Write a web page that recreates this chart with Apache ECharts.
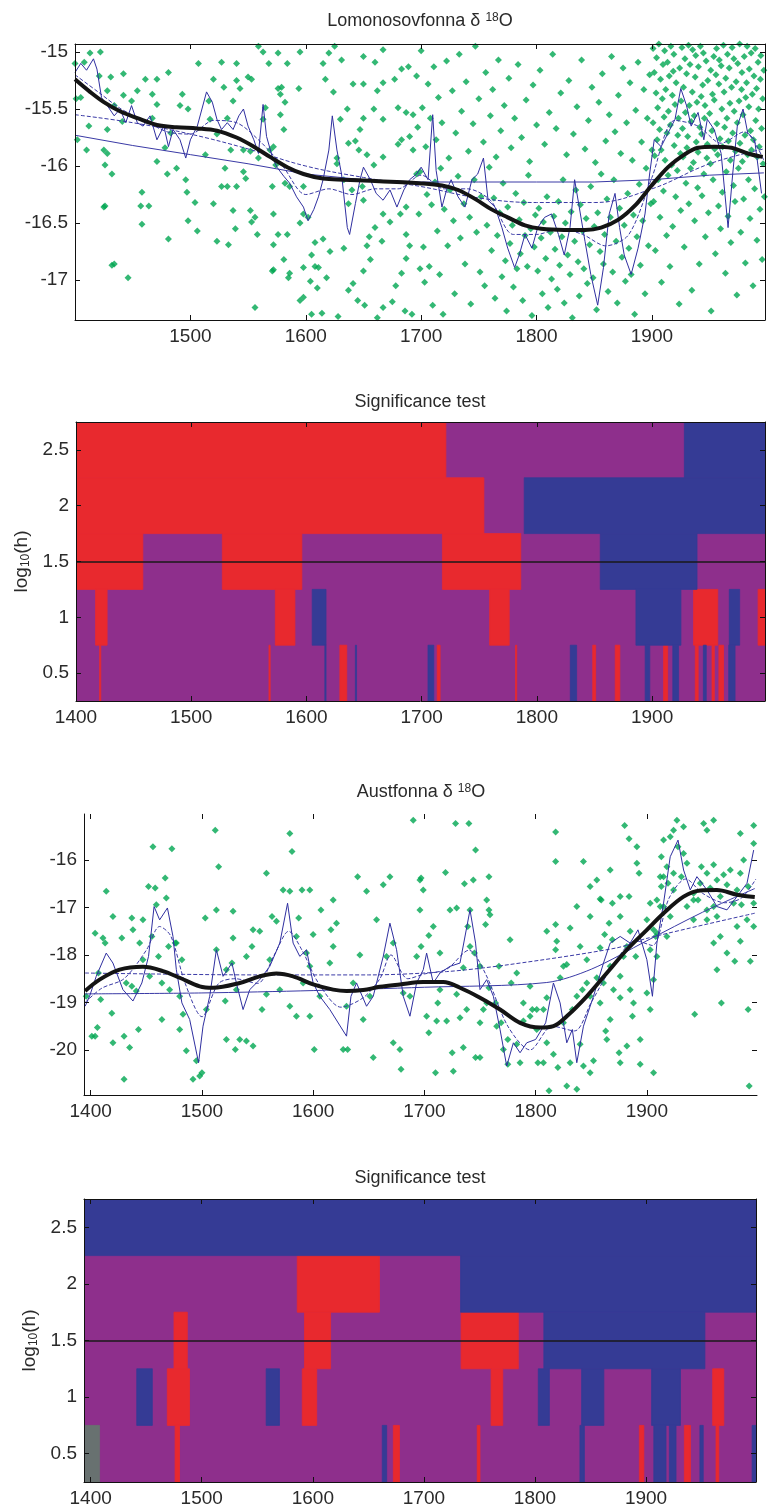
<!DOCTYPE html>
<html>
<head>
<meta charset="utf-8">
<title>Lomonosovfonna / Austfonna d18O</title>
<script src="https://cdn.jsdelivr.net/npm/echarts@6/dist/echarts.min.js"></script>
<style>
html, body {margin: 0; padding: 0; background: #fff;}
#chart {width: 771px; height: 1509px;}
</style>
</head>
<body>
<div id="chart"></div>
<script>
"use strict";

// ---------- Lomonosovfonna d18O (year, permil) ----------
var lomoPoints1400 = [[1400,-15.10],[1408,-15.09],[1413,-15.01],[1422,-15.00],[1401,-15.41],[1405,-15.40],[1402,-15.77],[1412,-15.65],[1410,-15.86],[1425,-15.86],[1428,-15.89],[1426,-15.99],[1432,-16.07],[1425,-16.36],[1432,-16.87],[1446,-16.98],[1421,-15.21],[1431,-15.22],[1428,-15.34],[1442,-15.19],[1454,-15.34],[1449,-15.43],[1442,-15.38],[1434,-15.47],[1441,-15.61],[1428,-15.68],[1467,-15.37],[1471,-15.46],[1461,-15.24],[1471,-15.24],[1481,-15.18],[1467,-15.58],[1483,-15.71],[1478,-15.84],[1471,-15.96],[1488,-16.02],[1480,-16.07],[1458,-16.23],[1464,-16.35],[1457,-16.35],[1426,-16.35],[1458,-16.51],[1481,-16.64],[1434,-16.86],[1493,-15.37],[1491,-15.47],[1498,-15.50],[1507,-15.10],[1516,-15.43],[1520,-15.24],[1527,-15.09],[1529,-15.31],[1537,-15.43],[1540,-15.10],[1540,-15.25],[1550,-15.22],[1553,-15.24],[1543,-15.32],[1523,-15.72],[1532,-15.58],[1517,-15.59],[1513,-15.90],[1530,-16.02],[1535,-15.86],[1496,-16.12],[1497,-16.23],[1504,-16.32],[1498,-16.48],[1506,-16.57],[1520,-16.33],[1527,-16.18],[1532,-16.18],[1540,-16.18],[1537,-16.39],[1539,-16.55],[1523,-16.66],[1533,-16.69],[1552,-16.39],[1556,-16.45],[1553,-16.49],[1558,-16.60],[1559,-15.93],[1546,-16.05],[1548,-16.11],[1556,-17.24],[1563,-15.00],[1565,-15.49],[1563,-15.59],[1576,-15.01],[1568,-15.10],[1584,-15.10],[1579,-15.31],[1578,-15.55],[1581,-15.68],[1572,-15.83],[1574,-15.99],[1582,-16.15],[1571,-16.18],[1586,-16.18],[1594,-15.32],[1595,-15.00],[1598,-16.18],[1598,-16.42],[1602,-16.45],[1595,-16.50],[1572,-16.42],[1572,-16.69],[1576,-16.60],[1584,-16.60],[1581,-16.82],[1572,-16.91],[1571,-16.92],[1586,-16.94],[1585,-16.98],[1598,-16.89],[1608,-16.88],[1611,-16.89],[1605,-16.78],[1608,-16.67],[1615,-16.64],[1598,-17.15],[1595,-17.18],[1604,-17.01],[1610,-17.07],[1614,-17.29],[1621,-16.75],[1637,-17.09],[1641,-17.03],[1650,-16.92],[1653,-16.70],[1656,-16.82],[1666,-16.66],[1651,-17.22],[1667,-17.24],[1675,-17.19],[1686,-17.27],[1683,-16.94],[1687,-16.81],[1690,-16.70],[1687,-16.60],[1660,-16.54],[1667,-16.42],[1673,-16.49],[1682,-16.42],[1687,-16.36],[1637,-16.33],[1650,-16.30],[1649,-16.18],[1640,-16.21],[1633,-16.12],[1627,-15.93],[1627,-15.98],[1637,-15.80],[1646,-15.86],[1643,-15.78],[1653,-15.90],[1659,-15.99],[1667,-15.92],[1680,-15.81],[1690,-15.74],[1683,-15.77],[1693,-15.86],[1696,-16.07],[1630,-15.59],[1636,-15.50],[1650,-15.58],[1647,-15.68],[1659,-15.50],[1667,-15.59],[1680,-15.49],[1687,-15.53],[1693,-15.55],[1641,-15.28],[1650,-15.28],[1662,-15.34],[1667,-15.27],[1677,-15.24],[1624,-15.35],[1617,-15.24],[1615,-15.10],[1620,-15.01],[1625,-14.95],[1631,-15.07],[1650,-15.04],[1660,-15.09],[1667,-14.98],[1683,-15.15],[1689,-15.13],[1578,-15.37],[1582,-15.44],[1559,-14.95],[1576,-15.32],[1552,-15.87],[1546,-15.86],[1569,-15.86],[1605,-17.30],[1628,-17.32],[1645,-17.18],[1662,-17.33],[1678,-17.05],[1692,-17.30],[1618,-16.98],[1633,-16.72],[1655,-16.62],[1699,-16.90]];

var lomoPoints1700 = [[1696,-15.21],[1697,-15.66],[1698,-16.42],[1699,-16.05],[1700,-14.99],[1701,-15.49],[1702,-16.71],[1703,-17.02],[1704,-15.83],[1705,-16.25],[1706,-15.28],[1707,-16.88],[1708,-15.58],[1709,-16.34],[1710,-17.22],[1711,-15.13],[1712,-16.14],[1713,-15.77],[1714,-16.57],[1715,-15.40],[1716,-16.95],[1717,-16.02],[1718,-15.62],[1719,-17.30],[1720,-16.38],[1722,-15.08],[1723,-16.70],[1724,-15.93],[1725,-16.21],[1727,-15.34],[1728,-16.48],[1729,-17.12],[1730,-15.71],[1732,-16.09],[1733,-15.02],[1734,-16.63],[1735,-15.52],[1737,-16.33],[1738,-16.86],[1739,-15.26],[1741,-15.87],[1742,-16.45],[1743,-17.21],[1745,-15.63],[1746,-16.12],[1747,-14.95],[1748,-16.58],[1750,-15.41],[1751,-16.93],[1752,-16.27],[1754,-15.79],[1755,-17.05],[1756,-15.18],[1757,-16.52],[1759,-16.01],[1760,-15.56],[1761,-16.74],[1762,-15.33],[1763,-16.28],[1764,-17.16],[1765,-15.92],[1766,-16.61],[1767,-15.07],[1768,-16.41],[1769,-15.69],[1770,-16.97],[1771,-16.15],[1772,-15.47],[1773,-16.83],[1774,-17.27],[1775,-16.36],[1776,-15.23],[1777,-16.68],[1778,-15.84],[1779,-16.52],[1780,-17.06],[1781,-15.58],[1782,-16.24],[1783,-16.90],[1784,-15.11],[1785,-16.47],[1786,-16.77],[1787,-15.75],[1788,-17.18],[1789,-16.32],[1790,-16.61],[1791,-15.42],[1792,-16.88],[1793,-16.08],[1794,-15.96],[1795,-16.55],[1796,-17.31],[1797,-15.29],[1798,-16.71],[1799,-16.43],[1800,-15.64],[1801,-16.92],[1802,-16.37],[1803,-15.16],[1804,-16.63],[1805,-17.12],[1806,-16.49],[1807,-15.81],[1808,-16.81],[1809,-16.27],[1810,-17.24],[1811,-15.53],[1812,-16.58],[1813,-16.99],[1814,-15.02],[1815,-16.44],[1816,-16.73],[1817,-15.67],[1818,-17.08],[1819,-16.31],[1820,-16.87],[1821,-15.36],[1822,-16.62],[1823,-16.12],[1824,-17.20],[1825,-16.50],[1826,-15.90],[1827,-16.78],[1828,-15.25],[1829,-16.95],[1830,-16.40],[1831,-17.33],[1832,-15.72],[1833,-16.66],[1834,-16.21],[1835,-15.48],[1836,-16.84],[1837,-17.14],[1838,-16.34],[1839,-15.07],[1840,-16.57],[1841,-16.90],[1842,-15.85],[1843,-16.46],[1844,-17.03],[1845,-15.60],[1846,-16.69],[1847,-16.18],[1848,-15.31],[1849,-16.98],[1850,-16.53],[1851,-15.97],[1852,-17.26],[1853,-16.41],[1854,-15.44],[1855,-16.75],[1856,-16.07],[1857,-15.19],[1858,-16.86],[1859,-16.60],[1860,-15.78],[1861,-16.29],[1862,-17.10],[1863,-15.55],[1864,-16.45],[1865,-15.04],[1866,-16.93],[1867,-16.12],[1868,-15.70],[1869,-16.66],[1870,-17.20],[1871,-15.38],[1872,-16.37],[1873,-15.89],[1874,-16.80],[1875,-15.14],[1876,-16.52],[1877,-17.01],[1878,-15.62],[1879,-16.24],[1880,-16.72],[1881,-15.27],[1882,-16.95],[1883,-15.95],[1884,-16.43],[1885,-17.30],[1886,-15.51],[1887,-16.62],[1888,-15.09],[1889,-16.16],[1890,-16.87],[1891,-15.79],[1892,-16.48],[1893,-15.33],[1894,-17.12],[1895,-16.02],[1896,-15.58],[1897,-16.70],[1898,-15.20],[1899,-16.33],[1900,-15.86]];

var lomoPoints1900 = [[1901,-15.62],[1901,-14.97],[1901.5,-16.31],[1902,-15.18],[1902.4,-15.91],[1903,-16.74],[1903.6,-15.36],[1904,-15.05],[1904.5,-15.77],[1905,-15.49],[1905.3,-16.12],[1906,-14.93],[1906.7,-15.68],[1907,-16.45],[1907.5,-15.24],[1908,-15.86],[1908.3,-17.02],[1909,-15.41],[1909.6,-15.11],[1910,-16.22],[1910.5,-15.57],[1911,-14.99],[1911.4,-15.95],[1912,-15.33],[1912.7,-16.61],[1913,-15.71],[1913.5,-15.09],[1914,-16.08],[1914.3,-15.52],[1915,-15.21],[1915.6,-16.88],[1916,-15.64],[1916.4,-14.95],[1917,-15.99],[1917.7,-15.38],[1918,-16.53],[1918.5,-15.17],[1919,-15.02],[1919.3,-15.82],[1920,-15.46],[1920.6,-16.27],[1921,-15.27],[1921.5,-14.91],[1922,-16.04],[1922.4,-15.73],[1923,-15.58],[1923.6,-17.21],[1924,-15.14],[1924.7,-15.89],[1925,-16.39],[1925.3,-15.43],[1926,-14.96],[1926.5,-15.67],[1927,-15.92],[1927.4,-15.31],[1928,-16.71],[1928.6,-15.06],[1929,-15.53],[1929.5,-16.15],[1930,-15.19],[1930.3,-15.84],[1931,-15.74],[1931.7,-14.94],[1932,-16.33],[1932.4,-15.47],[1933,-15.11],[1933.5,-16.02],[1934,-15.61],[1934.6,-17.09],[1935,-15.35],[1935.3,-14.98],[1936,-15.97],[1936.7,-15.56],[1937,-16.48],[1937.5,-15.22],[1938,-15.03],[1938.4,-15.79],[1939,-15.44],[1939.6,-16.19],[1940,-15.88],[1940.3,-15.13],[1941,-16.86],[1941.5,-15.66],[1942,-14.95],[1942.7,-15.39],[1943,-15.72],[1943.4,-16.26],[1944,-15.29],[1944.6,-15.01],[1945,-16.07],[1945.5,-15.58],[1946,-15.47],[1946.3,-16.62],[1947,-15.08],[1947.6,-15.93],[1948,-15.81],[1948.4,-15.25],[1949,-16.41],[1949.5,-14.92],[1950,-15.54],[1950.7,-15.98],[1951,-15.16],[1951.3,-17.27],[1952,-15.69],[1952.5,-15.37],[1953,-16.12],[1953.6,-15.04],[1954,-15.42],[1954.4,-15.85],[1955,-16.77],[1955.5,-15.20],[1956,-14.97],[1956.3,-15.63],[1957,-15.90],[1957.7,-16.35],[1958,-15.28],[1958.4,-15.07],[1959,-15.76],[1959.5,-16.55],[1960,-15.12],[1960.6,-15.50],[1961,-16.23],[1961.3,-15.83],[1962,-14.94],[1962.5,-15.35],[1963,-15.66],[1963.7,-16.94],[1964,-15.23],[1964.4,-16.05],[1965,-15.58],[1965.5,-15.02],[1966,-16.44],[1966.3,-15.78],[1967,-15.14],[1967.6,-15.45],[1968,-15.95],[1968.4,-16.67],[1969,-15.31],[1969.5,-14.96],[1970,-15.71],[1970.7,-16.17],[1971,-15.06],[1971.3,-15.52],[1972,-16.31],[1972.5,-15.87],[1973,-15.26],[1973.6,-17.13],[1974,-15.62],[1974.4,-15.10],[1975,-16.02],[1975.5,-15.43],[1976,-14.93],[1976.3,-15.80],[1977,-16.58],[1977.7,-15.33],[1978,-15.18],[1978.4,-15.96],[1979,-15.55],[1979.5,-16.29],[1980,-15.04],[1980.6,-15.73],[1981,-16.85],[1981.3,-15.40],[1982,-15.27],[1982.5,-14.95],[1983,-15.90],[1983.7,-16.12],[1984,-15.48],[1984.4,-15.15],[1985,-16.46],[1985.5,-15.69],[1986,-15.01],[1986.3,-15.86],[1987,-15.37],[1987.6,-17.05],[1988,-15.77],[1988.4,-15.21],[1989,-16.20],[1989.5,-14.97],[1990,-15.60],[1990.7,-15.32],[1991,-16.65],[1991.3,-15.92],[1992,-15.09],[1992.5,-15.50],[1993,-15.83],[1993.6,-16.38],[1994,-15.24],[1994.4,-15.03],[1995,-15.67],[1995.5,-16.82],[1996,-15.41],[1996.3,-15.98],[1997,-15.16],[1997.5,-16.27]];

// smooths of the Lomonosovfonna record
var lomoSmooth = [[1400,-15.24],[1413,-15.35],[1425,-15.44],[1439,-15.52],[1454,-15.58],[1471,-15.64],[1488,-15.66],[1506,-15.67],[1523,-15.69],[1540,-15.75],[1555,-15.83],[1569,-15.92],[1584,-16.01],[1598,-16.07],[1615,-16.11],[1633,-16.12],[1656,-16.13],[1679,-16.14],[1698,-16.15],[1718,-16.17],[1732,-16.21],[1747,-16.29],[1761,-16.38],[1775,-16.45],[1790,-16.52],[1804,-16.55],[1824,-16.56],[1842,-16.56],[1856,-16.54],[1871,-16.47],[1885,-16.35],[1899,-16.18],[1914,-16.01],[1928,-15.90],[1940,-15.84],[1954,-15.83],[1969,-15.84],[1983,-15.89],[1996,-15.92]];
var lomoFine = [[1400,-15.18],[1405,-15.10],[1410,-15.16],[1416,-15.06],[1419,-15.15],[1423,-15.40],[1428,-15.47],[1434,-15.56],[1439,-15.50],[1444,-15.62],[1449,-15.47],[1454,-15.62],[1459,-15.65],[1465,-15.56],[1471,-15.77],[1477,-15.65],[1481,-15.83],[1485,-15.68],[1491,-15.77],[1496,-15.93],[1500,-15.77],[1506,-15.65],[1510,-15.50],[1514,-15.35],[1519,-15.44],[1523,-15.59],[1527,-15.68],[1532,-15.62],[1537,-15.68],[1542,-15.56],[1546,-15.50],[1550,-15.65],[1555,-15.77],[1559,-15.89],[1563,-15.46],[1566,-15.74],[1571,-15.92],[1575,-16.01],[1581,-16.09],[1586,-16.15],[1592,-16.27],[1598,-16.36],[1602,-16.48],[1607,-16.38],[1611,-16.27],[1615,-16.12],[1620,-15.86],[1623,-15.56],[1627,-15.86],[1631,-16.07],[1636,-16.54],[1638,-16.60],[1643,-16.33],[1647,-16.12],[1650,-16.01],[1656,-16.12],[1661,-16.24],[1667,-16.30],[1673,-16.21],[1679,-16.36],[1685,-16.21],[1690,-16.12],[1696,-16.07],[1700,-16.01],[1706,-16.12],[1710,-15.55],[1713,-16.04],[1718,-16.36],[1722,-16.21],[1726,-16.12],[1732,-16.27],[1738,-16.36],[1744,-16.12],[1749,-16.07],[1754,-15.93],[1758,-16.30],[1764,-16.36],[1770,-16.54],[1775,-16.72],[1781,-16.89],[1785,-16.78],[1790,-16.60],[1796,-16.72],[1801,-16.54],[1807,-16.45],[1813,-16.42],[1819,-16.60],[1824,-16.78],[1829,-16.54],[1833,-16.12],[1837,-16.36],[1842,-16.66],[1847,-16.95],[1853,-17.22],[1858,-16.89],[1863,-16.42],[1868,-16.24],[1872,-16.54],[1876,-16.78],[1882,-16.95],[1888,-16.72],[1894,-16.42],[1898,-16.07],[1902,-15.77],[1908,-15.83],[1914,-15.71],[1920,-15.59],[1925,-15.32],[1930,-15.47],[1934,-15.65],[1940,-15.53],[1945,-15.77],[1948,-15.59],[1954,-15.68],[1960,-15.89],[1966,-16.54],[1970,-16.07],[1974,-15.65],[1979,-15.50],[1983,-15.71],[1989,-15.77],[1995,-16.24]];
var lomoMedium = [[1400,-15.20],[1420,-15.35],[1440,-15.50],[1460,-15.60],[1480,-15.70],[1500,-15.72],[1520,-15.60],[1540,-15.62],[1560,-15.78],[1580,-16.00],[1600,-16.25],[1620,-16.20],[1640,-16.25],[1660,-16.20],[1680,-16.20],[1700,-16.08],[1720,-16.20],[1740,-16.20],[1760,-16.30],[1780,-16.60],[1800,-16.60],[1820,-16.55],[1840,-16.60],[1860,-16.70],[1880,-16.60],[1900,-16.10],[1920,-15.60],[1940,-15.65],[1960,-15.80],[1980,-15.70],[1997,-15.95]];
var lomoWide1 = [[1400,-15.73],[1450,-15.82],[1500,-15.90],[1550,-15.98],[1600,-16.07],[1650,-16.12],[1700,-16.14],[1750,-16.14],[1800,-16.14],[1850,-16.14],[1900,-16.12],[1950,-16.08],[1997,-16.06]];
var lomoWide2 = [[1400,-15.55],[1450,-15.62],[1500,-15.72],[1550,-15.85],[1600,-16.00],[1650,-16.10],[1700,-16.18],[1750,-16.28],[1800,-16.32],[1850,-16.32],[1900,-16.20],[1950,-15.98],[1997,-15.85]];

// ---------- Austfonna d18O ----------
var austPoints1400 = [[1414,-16.66],[1404,-17.54],[1420,-17.19],[1411,-17.64],[1413,-17.75],[1396,-18.87],[1407,-18.38],[1401,-19.71],[1406,-19.53],[1409,-18.94],[1419,-19.23],[1430,-19.71],[1435,-19.95],[1430,-20.62],[1428,-17.64],[1437,-17.22],[1441,-18.76],[1443,-19.57],[1447,-17.26],[1452,-16.56],[1458,-16.59],[1459,-16.94],[1461,-18.03],[1455,-17.61],[1467,-16.38],[1468,-16.80],[1470,-17.82],[1476,-17.75],[1473,-15.76],[1456,-15.72],[1444,-17.75],[1438,-17.47],[1432,-18.59],[1447,-18.10],[1453,-18.45],[1464,-18.59],[1471,-18.73],[1477,-17.75],[1482,-18.10],[1480,-18.87],[1483,-19.25],[1486,-20.02],[1495,-20.23],[1492,-20.62],[1498,-20.55],[1503,-17.22],[1504,-19.15],[1513,-17.89],[1512,-15.37],[1513,-17.05],[1515,-16.14],[1522,-18.31],[1527,-18.17],[1528,-17.08],[1531,-18.73],[1521,-18.97],[1522,-19.78],[1530,-19.99],[1534,-19.78],[1540,-19.81],[1546,-19.92],[1540,-18.03],[1545,-17.82],[1552,-17.50],[1558,-16.28],[1563,-17.19],[1561,-18.10],[1554,-19.15],[1558,-18.83],[1573,-16.63],[1579,-15.44],[1581,-15.82],[1579,-16.66],[1587,-17.22],[1590,-16.63],[1597,-16.63],[1585,-17.61],[1594,-17.96],[1600,-17.57],[1597,-18.24],[1591,-18.59],[1570,-18.73],[1579,-19.08],[1585,-19.29],[1597,-19.29],[1601,-19.99],[1606,-18.87],[1615,-18.17],[1618,-17.82],[1621,-17.33],[1627,-19.99],[1631,-19.99],[1630,-19.08],[1636,-18.59],[1642,-18.00],[1645,-19.36],[1651,-18.87],[1654,-20.16],[1640,-16.35],[1648,-16.66],[1657,-17.26],[1663,-16.52],[1666,-18.03],[1672,-17.75],[1672,-19.85],[1678,-19.99],[1679,-20.41],[1681,-18.80],[1687,-18.87],[1693,-18.03],[1697,-17.82],[1696,-16.42],[1690,-15.16],[1669,-16.35],[1618,-16.84],[1616,-17.47],[1607,-17.05],[1567,-17.29],[1546,-17.47],[1528,-17.64],[1404,-19.71],[1464,-19.36],[1480,-19.57],[1500,-20.48],[1437,-18.66],[1420,-19.85]];

var austPoints1700 = [[1728,-15.23],[1740,-15.23],[1746,-15.79],[1818,-15.41],[1818,-16.03],[1843,-16.03],[1719,-16.26],[1697,-16.38],[1736,-16.50],[1744,-16.42],[1758,-16.35],[1699,-16.63],[1696,-17.05],[1723,-17.05],[1729,-17.01],[1741,-17.05],[1758,-17.05],[1759,-17.15],[1756,-16.84],[1777,-17.68],[1767,-18.24],[1755,-17.36],[1708,-17.40],[1704,-17.59],[1739,-17.40],[1741,-17.82],[1745,-17.96],[1714,-17.96],[1750,-18.24],[1735,-18.27],[1714,-18.73],[1729,-18.83],[1711,-19.39],[1720,-19.39],[1732,-19.32],[1702,-19.29],[1712,-19.01],[1704,-19.64],[1735,-19.95],[1746,-20.16],[1710,-20.48],[1726,-20.45],[1753,-19.15],[1758,-18.69],[1764,-19.01],[1769,-19.43],[1775,-19.78],[1783,-19.88],[1771,-19.99],[1775,-20.30],[1786,-20.27],[1778,-18.59],[1783,-18.38],[1795,-18.66],[1797,-19.15],[1801,-19.15],[1807,-19.15],[1801,-19.57],[1810,-19.85],[1802,-20.27],[1807,-20.27],[1816,-20.09],[1812,-20.86],[1828,-20.76],[1837,-20.83],[1820,-20.37],[1831,-20.27],[1843,-20.34],[1840,-19.88],[1852,-20.23],[1849,-20.48],[1825,-19.43],[1833,-19.15],[1837,-18.87],[1846,-18.59],[1842,-18.73],[1849,-18.87],[1858,-19.01],[1861,-18.59],[1855,-18.48],[1822,-18.48],[1818,-17.89],[1819,-17.71],[1810,-17.50],[1818,-17.36],[1828,-18.20],[1840,-17.82],[1846,-18.10],[1849,-17.19],[1855,-16.42],[1859,-16.84],[1867,-16.21],[1869,-16.91],[1876,-16.77],[1876,-17.19],[1884,-16.77],[1866,-17.33],[1862,-17.57],[1869,-17.68],[1858,-17.85],[1885,-17.50],[1882,-17.82],[1879,-18.03],[1890,-18.03],[1867,-18.24],[1876,-18.45],[1870,-18.73],[1885,-18.73],[1876,-18.90],[1888,-19.01],[1887,-19.29],[1903,-19.15],[1900,-18.80],[1906,-18.52],[1894,-19.78],[1882,-19.92],[1876,-20.27],[1894,-20.30],[1906,-20.48],[1867,-19.36],[1864,-19.78],[1875,-20.06],[1863,-19.60],[1880,-15.27],[1884,-15.55],[1891,-15.72],[1891,-16.07],[1893,-16.28],[1900,-17.26],[1906,-17.47],[1908,-17.61],[1903,-17.89],[1909,-18.03],[1912,-16.98],[1913,-16.56],[1915,-16.35],[1913,-15.93],[1915,-15.58],[1921,-15.51],[1927,-15.16],[1924,-15.37],[1933,-15.30],[1928,-15.72],[1933,-15.86],[1918,-16.14],[1924,-16.28],[1931,-16.35],[1936,-16.07],[1924,-16.63],[1915,-16.98],[1921,-17.19],[1909,-17.54],[1918,-17.61],[1936,-16.98],[1942,-16.84],[1949,-16.14],[1954,-16.28],[1960,-16.10],[1957,-16.59],[1963,-16.42],[1969,-16.31],[1972,-16.52],[1951,-15.23],[1954,-15.37],[1960,-15.16],[1973,-15.02],[1984,-15.44],[1996,-15.27],[1987,-16.00],[1996,-15.65],[1984,-16.28],[1991,-16.56],[1996,-16.91],[1978,-16.91],[1985,-16.94],[1960,-16.98],[1954,-17.05],[1942,-17.26],[1954,-17.26],[1963,-17.19],[1981,-17.40],[1984,-17.71],[1990,-17.26],[1996,-17.40],[1966,-17.61],[1960,-17.75],[1972,-17.96],[1979,-18.13],[1993,-18.13],[1963,-18.31],[1967,-19.01],[1943,-19.25],[1991,-19.15],[1992,-20.76],[1942,-16.70],[1948,-16.49],[1966,-16.77],[1975,-16.21],[1981,-16.63],[1946,-16.84],[1919,-16.49],[1912,-16.35],[1909,-16.84],[1903,-16.91],[1858,-16.82],[1849,-16.56],[1837,-16.98],[1831,-17.43],[1825,-18.24],[1810,-18.90],[1789,-19.01],[1795,-19.29],[1789,-19.39],[1756,-19.01],[1750,-19.43],[1738,-19.15],[1725,-20.06],[1750,-20.16],[1765,-19.50]];

var austSmooth = [[1395,-18.76],[1408,-18.52],[1426,-18.31],[1447,-18.25],[1465,-18.34],[1480,-18.48],[1498,-18.66],[1510,-18.69],[1534,-18.59],[1552,-18.45],[1567,-18.39],[1582,-18.45],[1600,-18.62],[1618,-18.73],[1630,-18.76],[1645,-18.74],[1660,-18.67],[1678,-18.62],[1699,-18.57],[1717,-18.57],[1732,-18.69],[1750,-18.90],[1768,-19.15],[1786,-19.43],[1804,-19.53],[1816,-19.50],[1828,-19.29],[1846,-18.87],[1864,-18.38],[1882,-17.89],[1900,-17.47],[1915,-17.12],[1933,-16.77],[1948,-16.64],[1963,-16.63],[1981,-16.73],[1997,-16.78]];
var austFine = [[1395,-19.08],[1399,-18.87],[1405,-18.45],[1414,-17.96],[1420,-18.17],[1429,-18.73],[1438,-18.97],[1446,-18.59],[1452,-18.03],[1457,-16.98],[1462,-17.26],[1469,-17.01],[1474,-17.61],[1477,-18.31],[1482,-19.01],[1489,-19.36],[1497,-20.27],[1501,-19.50],[1507,-18.87],[1513,-17.89],[1519,-18.45],[1527,-18.17],[1531,-18.59],[1537,-19.15],[1543,-18.73],[1552,-18.52],[1561,-18.24],[1570,-17.75],[1577,-16.91],[1582,-17.75],[1588,-18.03],[1594,-17.89],[1600,-18.59],[1606,-18.87],[1615,-19.15],[1630,-19.71],[1634,-18.87],[1639,-18.59],[1648,-19.08],[1654,-18.87],[1663,-18.03],[1669,-17.33],[1675,-17.89],[1681,-18.87],[1687,-19.29],[1693,-18.59],[1699,-18.31],[1702,-17.96],[1708,-18.59],[1714,-18.38],[1723,-18.24],[1732,-18.17],[1741,-17.05],[1746,-17.75],[1750,-18.73],[1756,-18.52],[1762,-18.87],[1768,-19.57],[1774,-20.34],[1780,-19.85],[1786,-20.06],[1792,-19.85],[1800,-19.78],[1809,-19.43],[1816,-18.59],[1822,-19.01],[1828,-19.85],[1833,-19.57],[1837,-20.27],[1843,-19.50],[1852,-18.87],[1861,-18.17],[1867,-17.75],[1876,-17.61],[1885,-17.75],[1892,-17.47],[1900,-18.10],[1905,-18.87],[1909,-17.75],[1915,-16.91],[1921,-15.93],[1928,-15.58],[1933,-16.21],[1939,-16.63],[1945,-16.35],[1954,-16.63],[1963,-16.98],[1972,-17.05],[1981,-16.77],[1990,-16.49],[1996,-15.79]];
var austMedium = [[1395,-19.00],[1410,-18.70],[1430,-18.50],[1450,-17.90],[1462,-17.40],[1472,-17.60],[1485,-18.60],[1500,-19.30],[1515,-18.60],[1530,-18.50],[1550,-18.60],[1565,-18.00],[1578,-17.50],[1590,-17.90],[1605,-18.60],[1625,-19.10],[1645,-18.90],[1660,-18.50],[1670,-18.00],[1685,-18.50],[1700,-18.40],[1720,-18.30],[1740,-17.90],[1755,-18.40],[1775,-19.50],[1795,-20.00],[1815,-19.50],[1835,-19.60],[1850,-19.00],[1870,-18.20],[1890,-17.70],[1905,-17.80],[1920,-16.80],[1935,-16.40],[1950,-16.70],[1970,-16.90],[1985,-16.80],[1998,-16.40]];
var austWide1 = [[1395,-18.38],[1550,-18.42],[1650,-18.42],[1720,-18.35],[1777,-18.20],[1873,-17.85],[1900,-17.65],[1997,-17.12]];
var austWide2 = [[1395,-18.82],[1500,-18.80],[1600,-18.75],[1700,-18.68],[1810,-18.58],[1850,-18.30],[1900,-17.70],[1950,-17.10],[1997,-16.60]];

// ---------- significance maps: [start year, end year, log10(h)] ----------
var sigLevels = [0.5, 1, 1.5, 2, 2.5];
var sigLine = 1.5;
var lomoRed = [[1400,1721,2.5],[1400,1754,2],[1400,1458,1.5],[1527,1596,1.5],[1718,1786,1.5],[1417,1427,1],[1573,1590,1],[1759,1776,1],[1936,1957,1],[1992,1998,1],[1420.5,1421.5,0.5],[1567.5,1568.5,0.5],[1629,1635,0.5],[1713.5,1716,0.5],[1781.5,1782.5,0.5],[1848.5,1851,0.5],[1868,1872,0.5],[1910,1913.5,0.5],[1937.5,1940,0.5],[1952,1954,0.5],[1958,1962,0.5]];
var lomoBlue = [[1928,1998,2.5],[1789,1998,2],[1855,1939,1.5],[1605,1617,1],[1886,1925,1],[1967,1976,1],[1616,1617,0.5],[1642.5,1643.5,0.5],[1705.5,1710.5,0.5],[1829,1834.5,0.5],[1894,1898,0.5],[1918,1923,0.5],[1944.5,1947,0.5],[1966.5,1972,0.5]];
var austRed = [[1586,1660,2],[1475,1487,1.5],[1592.5,1616,1.5],[1733.5,1785,1.5],[1469,1489,1],[1590.5,1603.5,1],[1760.5,1771,1],[1960,1970,1],[1476,1480,0.5],[1672.5,1678,0.5],[1748,1750.5,0.5],[1894,1898,0.5],[1934.5,1940,0.5],[1963,1965.5,0.5]];
var austBlue = [[1394,1999,2.5],[1733,1999,2],[1808,1953,1.5],[1441.5,1455.5,1],[1558,1570,1],[1803,1813,1],[1842,1862,1],[1905,1931,1],[1662.5,1666.5,0.5],[1840.5,1844.5,0.5],[1907,1918,0.5],[1921,1927,0.5],[1948.5,1951.5,0.5],[1995.5,1999,0.5]];
var austGray = [[1394,1408,0.5]];

// tick values
var lomoYearTicks = [1500, 1600, 1700, 1800, 1900];
var yearTicks = [1400, 1500, 1600, 1700, 1800, 1900];
var lomoValueTicks = [-17, -16.5, -16, -15.5, -15];
var austValueTicks = [-20, -19, -18, -17, -16];
var hTicks = [0.5, 1, 1.5, 2, 2.5];

var FONT = 'Liberation Sans, Arial, sans-serif';
var TXT = '#2a2a2a';
var sigColors = ['#8e2f8c', '#e8292e', '#353b95', '#687170'];

function makeAxis(g, min, max, pos, labels, ticks, showLine) {
    return {
        type: 'value', gridIndex: g, min: min, max: max, position: pos, z: 6,
        splitLine: {show: false},
        axisLine: {show: showLine, onZero: false, lineStyle: {color: '#111', width: 1}},
        axisTick: {show: true, inside: true, length: 5, customValues: ticks, lineStyle: {color: '#111'}},
        axisLabel: {show: labels !== null, customValues: labels || ticks, color: TXT,
            fontSize: 19, fontFamily: FONT, margin: 7,
            formatter: function (v) { return String(v); }}
    };
}

// rectangles for a significance map: one purple background, then red / blue / grey cells
function sigData(xmin, xmax, red, blue, gray) {
    var out = [[xmin, xmax, 1.5, 0, 2.5]];
    red.forEach(function (s) { out.push([s[0], s[1], s[2], 1, 0.5]); });
    blue.forEach(function (s) { out.push([s[0], s[1], s[2], 2, 0.5]); });
    (gray || []).forEach(function (s) { out.push([s[0], s[1], s[2], 3, 0.5]); });
    return out;
}

function renderBand(params, api) {
    var half = api.value(4) / 2;
    var a = api.coord([api.value(0), api.value(2) + half]);
    var b = api.coord([api.value(1), api.value(2) - half]);
    var col = sigColors[api.value(3)];
    return {
        type: 'rect',
        shape: {x: a[0], y: a[1], width: Math.max(b[0] - a[0], 0.6), height: b[1] - a[1]},
        style: {fill: col, stroke: col, lineWidth: 0.8}
    };
}

function sigSeries(ax, data) {
    return {
        type: 'custom', xAxisIndex: ax, yAxisIndex: ax, clip: true,
        dimensions: ['start', 'end', 'h', 'kind', 'span'],
        encode: {x: ['start', 'end'], y: 'h'},
        renderItem: renderBand, data: data, silent: true,
        markLine: {silent: true, symbol: 'none', label: {show: false},
            lineStyle: {color: '#1a1a1a', width: 1.6, type: 'solid'},
            data: [{yAxis: sigLine}]}
    };
}

function pointSeries(ax, data) {
    return {type: 'scatter', xAxisIndex: ax, yAxisIndex: ax, data: data, symbol: 'diamond',
        symbolSize: 7, itemStyle: {color: '#00a651'}, silent: true, z: 2};
}
function lineSeries(ax, data, color, width, dash, smooth, z) {
    return {type: 'line', xAxisIndex: ax, yAxisIndex: ax, data: data, showSymbol: false,
        symbol: 'none', smooth: smooth, silent: true, z: z,
        lineStyle: {color: color, width: width, type: dash}};
}

var titleRich = {
    b: {fontSize: 18, fontFamily: FONT, fill: TXT, verticalAlign: 'bottom', lineHeight: 19},
    s: {fontSize: 12, fontFamily: FONT, fill: TXT, verticalAlign: 'top', lineHeight: 12, padding: [0, 0, 10, 0]}
};
var hName = '{b|log}{s|10}{b|(h)}';
var hNameStyle = {rich: {
    b: {fontSize: 19, fontFamily: FONT, color: TXT, verticalAlign: 'top', lineHeight: 19},
    s: {fontSize: 12, fontFamily: FONT, color: TXT, verticalAlign: 'bottom', lineHeight: 12, padding: [8, 0, 0, 0]}
}};

var yLeft2 = makeAxis(1, 0.25, 2.75, 'left', hTicks, hTicks, true);
yLeft2.name = hName; yLeft2.nameLocation = 'middle'; yLeft2.nameRotate = 90;
yLeft2.nameGap = 42; yLeft2.nameTextStyle = hNameStyle;
var yLeft4 = makeAxis(3, 0.25, 2.75, 'left', hTicks, hTicks, true);
yLeft4.name = hName; yLeft4.nameLocation = 'middle'; yLeft4.nameRotate = 90;
yLeft4.nameGap = 42; yLeft4.nameTextStyle = hNameStyle;

var chart = echarts.init(document.getElementById('chart'), null, {renderer: 'canvas'});

chart.setOption({
    animation: false,
    backgroundColor: '#ffffff',
    grid: [
        {left: 75, top: 44, width: 690, height: 276},
        {left: 76, top: 422, width: 689, height: 279},
        {left: 84, top: 814, width: 673, height: 281},
        {left: 84, top: 1199, width: 672, height: 283}
    ],
    xAxis: [
        makeAxis(0, 1400, 1998, 'bottom', lomoYearTicks, lomoYearTicks, true),
        makeAxis(0, 1400, 1998, 'top', null, lomoYearTicks, true),
        makeAxis(1, 1400, 1998, 'bottom', yearTicks, yearTicks, true),
        makeAxis(1, 1400, 1998, 'top', null, yearTicks, true),
        makeAxis(2, 1394, 1999, 'bottom', yearTicks, yearTicks, true),
        makeAxis(2, 1394, 1999, 'top', null, yearTicks, false),
        makeAxis(3, 1394, 1999, 'bottom', yearTicks, yearTicks, true),
        makeAxis(3, 1394, 1999, 'top', null, yearTicks, true)
    ],
    yAxis: [
        makeAxis(0, -17.35, -14.93, 'left', lomoValueTicks, lomoValueTicks, true),
        makeAxis(0, -17.35, -14.93, 'right', null, lomoValueTicks, true),
        yLeft2,
        makeAxis(1, 0.25, 2.75, 'right', null, hTicks, true),
        makeAxis(2, -20.95, -15.03, 'left', austValueTicks, austValueTicks, true),
        makeAxis(2, -20.95, -15.03, 'right', null, austValueTicks, false),
        yLeft4,
        makeAxis(3, 0.25, 2.75, 'right', null, hTicks, true)
    ],
    graphic: [
        {type: 'text', x: 420, y: 21, style: {text: '{b|Lomonosovfonna δ }{s|18}{b|O}', align: 'center', verticalAlign: 'middle', rich: titleRich}},
        {type: 'text', x: 420, y: 402, style: {text: 'Significance test', align: 'center', verticalAlign: 'middle', fontSize: 18, fontFamily: FONT, fill: TXT}},
        {type: 'text', x: 421, y: 792, style: {text: '{b|Austfonna δ }{s|18}{b|O}', align: 'center', verticalAlign: 'middle', rich: titleRich}},
        {type: 'text', x: 420, y: 1178, style: {text: 'Significance test', align: 'center', verticalAlign: 'middle', fontSize: 18, fontFamily: FONT, fill: TXT}}
    ],
    series: [
        pointSeries(0, lomoPoints1400.concat(lomoPoints1700, lomoPoints1900)),
        lineSeries(0, lomoWide1, '#3a3aa6', 1, 'solid', false, 3),
        lineSeries(0, lomoWide2, '#3a3aa6', 1, 'dashed', 0.4, 3),
        lineSeries(0, lomoMedium, '#3a3aa6', 1, 'dashed', 0.3, 3),
        lineSeries(0, lomoFine, '#2f2fa0', 1, 'solid', false, 4),
        lineSeries(0, lomoSmooth, '#141414', 4, 'solid', 0.35, 5),

        sigSeries(2, sigData(1400, 1998, lomoRed, lomoBlue)),

        pointSeries(4, austPoints1400.concat(austPoints1700)),
        lineSeries(4, austWide1, '#3a3aa6', 1, 'dashed', 0.3, 3),
        lineSeries(4, austWide2, '#3a3aa6', 1, 'solid', 0.3, 3),
        lineSeries(4, austMedium, '#3a3aa6', 1, 'dashed', 0.3, 3),
        lineSeries(4, austFine, '#2f2fa0', 1, 'solid', false, 4),
        lineSeries(4, austSmooth, '#141414', 4, 'solid', 0.35, 5),

        sigSeries(6, sigData(1394, 1999, austRed, austBlue, austGray))
    ]
});
</script>
</body>
</html>
